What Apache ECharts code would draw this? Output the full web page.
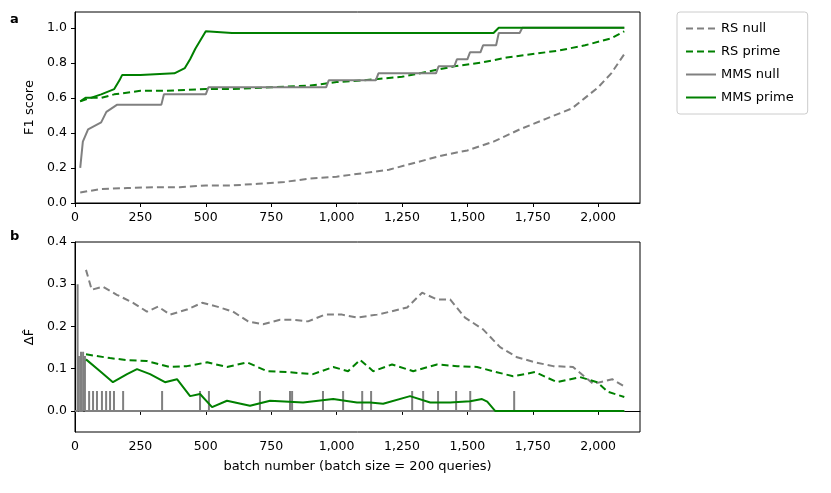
<!DOCTYPE html>
<html><head><meta charset="utf-8">
<script src="https://cdn.jsdelivr.net/npm/echarts@6/dist/echarts.min.js"></script>
<style>html,body{margin:0;padding:0;background:#fff}#c{width:831px;height:493px}</style>
</head><body><div id="c"></div>
<script>
// ---- Panel a (F1 score) ----
const aRsNullX = [20,60,100,200,300,400,500,600,700,800,900,1000,1100,1200,1300,1400,1500,1600,1700,1800,1900,1950,2000,2050,2100];
const aRsNullY = [0.06,0.07,0.08,0.085,0.09,0.09,0.10,0.10,0.11,0.12,0.14,0.15,0.17,0.19,0.23,0.27,0.30,0.35,0.42,0.48,0.54,0.60,0.66,0.74,0.85];
const aRsPrimeX = [20,60,100,150,250,350,500,600,750,900,1000,1100,1250,1350,1450,1550,1650,1750,1850,1950,2050,2100];
const aRsPrimeY = [0.58,0.60,0.60,0.62,0.64,0.64,0.65,0.65,0.66,0.67,0.69,0.70,0.72,0.75,0.78,0.80,0.83,0.85,0.87,0.90,0.94,0.98];
const aMmsNullX = [20,30,50,100,120,160,330,340,500,510,960,970,1150,1160,1380,1390,1450,1460,1500,1510,1550,1560,1610,1620,1700,1710,2100];
const aMmsNullY = [0.20,0.35,0.42,0.46,0.52,0.56,0.56,0.62,0.62,0.66,0.66,0.70,0.70,0.74,0.74,0.78,0.78,0.82,0.82,0.86,0.86,0.90,0.90,0.97,0.97,1.00,1.00];
const aMmsPrimeX = [20,40,60,100,150,170,180,250,380,420,440,460,480,500,600,800,1000,1200,1400,1600,1620,2100];
const aMmsPrimeY = [0.58,0.60,0.60,0.62,0.65,0.70,0.73,0.73,0.74,0.77,0.82,0.88,0.93,0.98,0.97,0.97,0.97,0.97,0.97,0.97,1.00,1.00];
// ---- Panel b (Delta F) ----
const bRsNullX = [42,64,107,160,222,275,318,363,428,486,543,604,662,719,784,834,891,956,1021,1078,1155,1205,1270,1327,1384,1434,1491,1560,1625,1690,1760,1828,1904,1981,2054,2100];
const bRsNullY = [0.334,0.287,0.294,0.275,0.256,0.235,0.247,0.228,0.240,0.256,0.247,0.235,0.212,0.205,0.216,0.216,0.212,0.228,0.228,0.221,0.228,0.235,0.245,0.280,0.264,0.264,0.221,0.193,0.151,0.127,0.115,0.106,0.104,0.064,0.075,0.058];
const bRsPrimeX = [42,134,203,275,363,428,505,581,658,734,811,910,987,1044,1090,1140,1212,1293,1384,1461,1537,1598,1675,1759,1843,1931,1996,2038,2100];
const bRsPrimeY = [0.134,0.125,0.120,0.118,0.104,0.106,0.115,0.104,0.115,0.094,0.092,0.087,0.104,0.094,0.121,0.094,0.110,0.094,0.110,0.106,0.104,0.094,0.082,0.092,0.068,0.080,0.068,0.045,0.033];
const bMmsPrimeX = [42,96,145,199,237,287,344,390,440,478,524,581,669,746,872,987,1078,1128,1178,1281,1358,1434,1511,1556,1576,1606,2100];
const bMmsPrimeY = [0.122,0.094,0.068,0.087,0.099,0.087,0.068,0.075,0.035,0.040,0.009,0.024,0.012,0.024,0.020,0.028,0.020,0.020,0.017,0.035,0.020,0.020,0.023,0.028,0.022,0.000,0.000];
const spikeX = [10,15,23,31,38,54,69,84,103,119,134,149,184,333,478,512,707,822,830,948,1025,1098,1132,1289,1331,1388,1457,1511,1679];
const spikeH = [0.30,0.13,0.14,0.14,0.13,0.047,0.047,0.047,0.047,0.047,0.047,0.047,0.047,0.047,0.047,0.047,0.047,0.047,0.047,0.047,0.047,0.047,0.047,0.047,0.047,0.047,0.047,0.047,0.047];
const xTicks = [0,250,500,750,1000,1250,1500,1750,2000];
const bYTicks = [0,0.1,0.2,0.3,0.4];

const zip = (xs, ys) => xs.map((x, i) => [x, ys[i]]);
const spikes = [[0,0]];
spikeX.forEach((x, i) => { spikes.push([x,0],[x,spikeH[i]],[x,0]); });
spikes.push([2100,0]);

const GRAY = '#808080', GREEN = '#008000';
const font = 'DejaVu Sans';
const axisCommon = {
  axisLine: {show: true, lineStyle: {color: '#000', width: 1}},
  axisTick: {show: true, inside: false, length: 4, lineStyle: {color: '#000'}},
  axisLabel: {color: '#000', fontFamily: font, fontSize: 12.5},
  splitLine: {show: false}
};
const xAxisFor = (gi) => Object.assign({}, axisCommon, {
  type: 'value', gridIndex: gi, min: 0, max: 2160, interval: 250,
  axisLabel: Object.assign({}, axisCommon.axisLabel, {showMaxLabel: false,
    formatter: v => v.toLocaleString('en-US')}),
  name: gi === 1 ? 'batch number (batch size = 200 queries)' : '',
  nameLocation: 'middle', nameGap: 28,
  nameTextStyle: {color: '#000', fontFamily: font, fontSize: 13}
});
const dashed = [7, 4];
const ln = (name, data, color, type, gi) => ({
  name, type: 'line', xAxisIndex: gi, yAxisIndex: gi, data, showSymbol: false,
  symbol: 'none', lineStyle: {color, width: 2, type}, itemStyle: {color},
  animation: false
});

const chart = echarts.init(document.getElementById('c'));
chart.setOption({
  animation: false,
  grid: [
    {left: 75, top: 12, width: 565, height: 191, show: true, borderColor: '#000', borderWidth: 1},
    {left: 75, top: 242, width: 565, height: 190, show: true, borderColor: '#000', borderWidth: 1}
  ],
  xAxis: [xAxisFor(0), xAxisFor(1)],
  yAxis: [
    Object.assign({}, axisCommon, {type: 'value', gridIndex: 0, min: 0, max: 1.09, interval: 0.2,
      axisLabel: Object.assign({}, axisCommon.axisLabel, {showMaxLabel: false, formatter: v => v.toFixed(1)}),
      name: 'F1 score', nameLocation: 'middle', nameGap: 38, nameRotate: 90,
      nameTextStyle: {color: '#000', fontFamily: font, fontSize: 13}}),
    Object.assign({}, axisCommon, {type: 'value', gridIndex: 1, min: -0.05, max: 0.4,
      axisTick: Object.assign({}, axisCommon.axisTick, {customValues: bYTicks}),
      axisLabel: Object.assign({}, axisCommon.axisLabel, {customValues: bYTicks, formatter: v => v.toFixed(1)}),
      name: 'ΔF\u0302', nameLocation: 'middle', nameGap: 38, nameRotate: 90,
      nameTextStyle: {color: '#000', fontFamily: font, fontSize: 13}})
  ],
  legend: {
    orient: 'vertical', left: 677, top: 12, itemWidth: 30, itemHeight: 14, itemGap: 10,
    padding: [10, 14, 10, 8], borderColor: '#ccc', borderWidth: 1, borderRadius: 3,
    itemStyle: {opacity: 0},
    textStyle: {color: '#000', fontFamily: font, fontSize: 13},
    data: ['RS null', 'RS prime', 'MMS null', 'MMS prime']
  },
  graphic: [
    {type: 'text', left: 10, top: 13, style: {text: 'a', font: 'bold 13px DejaVu Sans', fill: '#000'}},
    {type: 'text', left: 10, top: 230, style: {text: 'b', font: 'bold 13px DejaVu Sans', fill: '#000'}}
  ],
  series: [
    ln('RS null', zip(aRsNullX, aRsNullY), GRAY, dashed, 0),
    ln('RS prime', zip(aRsPrimeX, aRsPrimeY), GREEN, dashed, 0),
    ln('MMS null', zip(aMmsNullX, aMmsNullY), GRAY, 'solid', 0),
    ln('MMS prime', zip(aMmsPrimeX, aMmsPrimeY), GREEN, 'solid', 0),
    ln('RS null', zip(bRsNullX, bRsNullY), GRAY, dashed, 1),
    ln('RS prime', zip(bRsPrimeX, bRsPrimeY), GREEN, dashed, 1),
    ln('MMS null', spikes, GRAY, 'solid', 1),
    ln('MMS prime', zip(bMmsPrimeX, bMmsPrimeY), GREEN, 'solid', 1)
  ]
});
</script></body></html>
